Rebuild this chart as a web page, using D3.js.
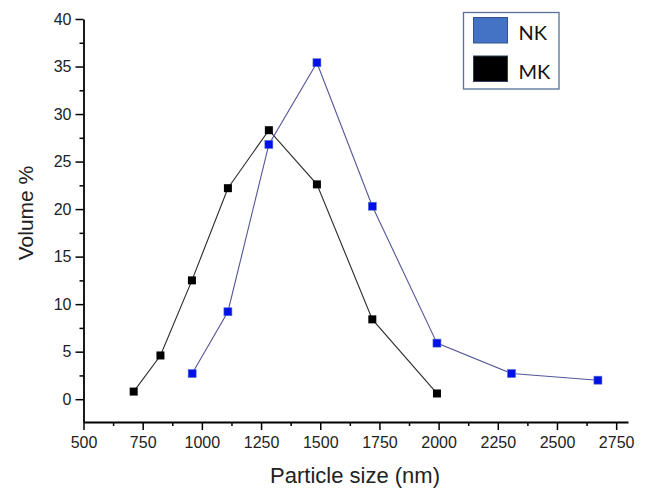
<!DOCTYPE html>
<html>
<head>
<meta charset="utf-8">
<script src="https://cdn.jsdelivr.net/npm/d3@7/dist/d3.min.js"></script>
<style>
  html, body { margin: 0; padding: 0; background: #fff; }
  svg { display: block; }
</style>
</head>
<body>
<svg id="chart" width="653" height="489"></svg>
<script>
// ---- Data ----
const seriesNames = ["NK", "MK"];
const nkSize = [959, 1110, 1283, 1486, 1720, 1993, 2308, 2673];
const nkVolume = [2.7, 9.2, 26.8, 35.4, 20.3, 5.9, 2.7, 2.0];
const mkSize = [712, 825, 958, 1110, 1283, 1486, 1720, 1993];
const mkVolume = [0.8, 4.6, 12.5, 22.2, 28.3, 22.6, 8.4, 0.6];
const xTicks = [500, 750, 1000, 1250, 1500, 1750, 2000, 2250, 2500, 2750];
const yTicks = [0, 5, 10, 15, 20, 25, 30, 35, 40];

(function () {
const svg = d3.select("#chart");
const mLeft = 83.5, mRight = 628, mTop = 19, mBottom = 422;

const x = d3.scaleLinear().domain([500, 2800]).range([mLeft, mRight]);
const y = d3.scaleLinear().domain([-2.4, 40]).range([mBottom, mTop]);

const font = "'Liberation Sans', Arial, sans-serif";

// minor ticks
const xMinor = d3.range(625, 2800, 250);
const yMinor = d3.range(2.5, 40, 5);

// X axis
const gx = svg.append("g").attr("transform", `translate(0,${mBottom})`);
gx.call(d3.axisBottom(x).tickValues(xTicks).tickSize(8).tickPadding(7).tickFormat(d3.format("d")).tickSizeOuter(0));
gx.append("g").call(d3.axisBottom(x).tickValues(xMinor).tickSize(4).tickFormat("")).select(".domain").remove();

// Y axis
const gy = svg.append("g").attr("transform", `translate(${mLeft},0)`);
gy.call(d3.axisLeft(y).tickValues(yTicks).tickSize(8).tickPadding(4).tickSizeOuter(0));
gy.append("g").call(d3.axisLeft(y).tickValues(yMinor).tickSize(4).tickFormat("")).select(".domain").remove();

svg.selectAll(".domain").attr("stroke", "#000").attr("stroke-width", 1.8);
svg.selectAll(".tick line").attr("stroke", "#000").attr("stroke-width", 1.5);
svg.selectAll(".tick text").attr("font-family", font).attr("font-size", 16).attr("fill", "#222");

// Axis titles
svg.append("text")
  .attr("x", 355).attr("y", 483)
  .attr("text-anchor", "middle")
  .attr("font-family", font).attr("font-size", 22).attr("fill", "#222")
  .text("Particle size (nm)");
svg.append("text")
  .attr("transform", `translate(33,213) rotate(-90)`)
  .attr("text-anchor", "middle")
  .attr("font-family", font).attr("font-size", 21).attr("fill", "#222")
  .text("Volume %");

// Series
const line = d3.line().x(d => x(d[0])).y(d => y(d[1]));
const nk = nkSize.map((s, i) => [s, nkVolume[i]]);
const mk = mkSize.map((s, i) => [s, mkVolume[i]]);

svg.append("path").datum(mk).attr("d", line)
  .attr("fill", "none").attr("stroke", "#2a2a2a").attr("stroke-width", 1.1);
svg.append("path").datum(nk).attr("d", line)
  .attr("fill", "none").attr("stroke", "#55559a").attr("stroke-width", 1.1);

const ms = 8;
svg.append("g").selectAll("rect").data(mk).join("rect")
  .attr("x", d => x(d[0]) - ms / 2).attr("y", d => y(d[1]) - ms / 2)
  .attr("width", ms).attr("height", ms).attr("fill", "#000");
svg.append("g").selectAll("rect").data(nk).join("rect")
  .attr("x", d => x(d[0]) - ms / 2).attr("y", d => y(d[1]) - ms / 2)
  .attr("width", ms).attr("height", ms).attr("fill", "#0010e8")
  .attr("stroke", "#5b6fd0").attr("stroke-width", 0.6);

// Legend
const lg = svg.append("g");
lg.append("rect").attr("x", 463.5).attr("y", 12.5).attr("width", 95.5).attr("height", 76.5)
  .attr("fill", "#fff").attr("stroke", "#5a7098").attr("stroke-width", 1.3);
const legendColors = ["#4472c4", "#000000"];
const legendStroke = ["#2f528f", "#2f3f5f"];
seriesNames.forEach((name, i) => {
  const yy = 17.5 + i * 38.5;
  lg.append("rect").attr("x", 473.5).attr("y", yy).attr("width", 34).attr("height", 25.5)
    .attr("fill", legendColors[i]).attr("stroke", legendStroke[i]).attr("stroke-width", 1);
  lg.append("text").attr("x", 518.5).attr("y", yy + 22.5)
    .attr("font-family", "Lato, 'Open Sans', sans-serif").attr("font-size", 20).attr("fill", "#111")
    .text(name);
});
})();
</script>
</body>
</html>
